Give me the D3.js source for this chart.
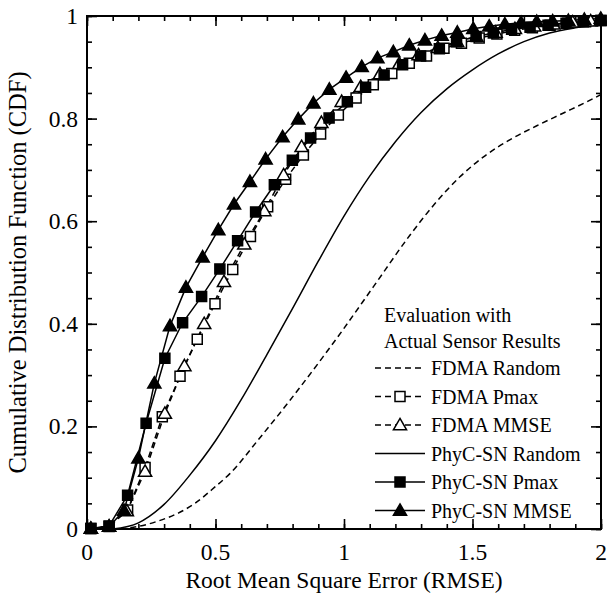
<!DOCTYPE html>
<html>
<head>
<meta charset="utf-8">
<script src="https://cdn.jsdelivr.net/npm/d3@7"></script>
<style>
  body { margin: 0; background: #fff; }
  svg text { font-family: "Liberation Serif", "Times New Roman", Times, serif; fill: #000; }
</style>
</head>
<body>
<div id="chart"></div>
<script>
// values
var xTickLabels = [0, 0.5, 1, 1.5, 2];
var yTickLabels = [0, 0.2, 0.4, 0.6, 0.8, 1];

var fdmaRandomX = [0.13, 0.2, 0.28, 0.355, 0.42, 0.498, 0.556, 0.673, 0.79, 0.919, 0.991, 1.114, 1.257, 1.35, 1.45, 1.55, 1.65, 1.75, 1.85, 1.95, 2.0];
var fdmaRandomY = [0, 0.005, 0.016, 0.031, 0.05, 0.082, 0.108, 0.178, 0.251, 0.336, 0.385, 0.472, 0.573, 0.632, 0.686, 0.728, 0.76, 0.786, 0.81, 0.834, 0.847];

var fdmaPmaxX = [0.015, 0.086, 0.158, 0.226, 0.293, 0.362, 0.429, 0.498, 0.567, 0.636, 0.703, 0.773, 0.842, 0.909, 0.978, 1.047, 1.114, 1.186, 1.254, 1.321, 1.389, 1.457, 1.526, 1.595, 1.664, 1.733, 1.802, 1.871, 1.94, 2.0];
var fdmaPmaxY = [0.001, 0.005, 0.037, 0.12, 0.219, 0.298, 0.37, 0.439, 0.506, 0.57, 0.628, 0.682, 0.729, 0.77, 0.807, 0.84, 0.866, 0.888, 0.908, 0.922, 0.937, 0.947, 0.957, 0.965, 0.972, 0.977, 0.982, 0.986, 0.989, 0.991];

var fdmaMmseX = [0.015, 0.086, 0.155, 0.226, 0.303, 0.379, 0.456, 0.533, 0.612, 0.69, 0.765, 0.835, 0.912, 0.991, 1.065, 1.14, 1.215, 1.29, 1.365, 1.44, 1.515, 1.59, 1.665, 1.74, 1.815, 1.89, 1.96, 2.0];
var fdmaMmseY = [0.001, 0.005, 0.035, 0.112, 0.225, 0.318, 0.4, 0.482, 0.555, 0.62, 0.69, 0.745, 0.792, 0.833, 0.862, 0.887, 0.907, 0.924, 0.938, 0.95, 0.96, 0.968, 0.975, 0.98, 0.984, 0.988, 0.99, 0.992];

var phycRandomX = [0.1, 0.2, 0.3, 0.4, 0.5, 0.6, 0.7, 0.8, 0.9, 1.0, 1.1, 1.2, 1.3, 1.4, 1.5, 1.6, 1.7, 1.8, 1.9, 2.0];
var phycRandomY = [0, 0.012, 0.048, 0.105, 0.172, 0.252, 0.34, 0.43, 0.522, 0.61, 0.688, 0.755, 0.812, 0.858, 0.895, 0.926, 0.95, 0.967, 0.977, 0.984];

var phycPmaxX = [0.015, 0.086, 0.158, 0.23, 0.303, 0.372, 0.446, 0.517, 0.586, 0.656, 0.729, 0.799, 0.87, 0.942, 1.013, 1.084, 1.156, 1.228, 1.298, 1.371, 1.438, 1.514, 1.581, 1.652, 1.724, 1.794, 1.864, 1.931, 2.0];
var phycPmaxY = [0.001, 0.006, 0.066, 0.206, 0.333, 0.402, 0.453, 0.507, 0.562, 0.618, 0.671, 0.719, 0.762, 0.801, 0.833, 0.861, 0.885, 0.905, 0.922, 0.936, 0.95, 0.96, 0.967, 0.974, 0.978, 0.982, 0.986, 0.989, 0.991];

var phycMmseX = [0.015, 0.086, 0.144, 0.2, 0.262, 0.323, 0.385, 0.45, 0.511, 0.572, 0.634, 0.695, 0.761, 0.822, 0.881, 0.943, 1.008, 1.069, 1.13, 1.192, 1.254, 1.315, 1.38, 1.441, 1.503, 1.565, 1.626, 1.689, 1.75, 1.812, 1.873, 1.935, 1.999];
var phycMmseY = [0.001, 0.005, 0.036, 0.138, 0.284, 0.396, 0.471, 0.53, 0.583, 0.633, 0.677, 0.721, 0.764, 0.799, 0.83, 0.857, 0.88, 0.901, 0.918, 0.93, 0.943, 0.953, 0.962, 0.968, 0.975, 0.98, 0.984, 0.987, 0.989, 0.99, 0.991, 0.993, 0.995];

var legendNames = ["FDMA Random", "FDMA Pmax", "FDMA MMSE", "PhyC-SN Random", "PhyC-SN Pmax", "PhyC-SN MMSE"];

var width = 607;
var height = 593;
var margin = { left: 87, right: 6, top: 16, bottom: 64 };
var serif = '"Liberation Serif", "Times New Roman", Times, serif';

var svg = d3.select("#chart").
    append("svg").
    attr("width", width).
    attr("height", height).
    attr("font-family", serif);

var xScale = d3.scaleLinear().
    domain([0, 2]).
    range([margin.left, width - margin.right]);

var yScale = d3.scaleLinear().
    domain([0, 1]).
    range([height - margin.bottom, margin.top]);

function zip(xs, ys) {
    return xs.map(function (x, i) { return [x, ys[i]]; });
}

var series = [
    { name: legendNames[0], data: zip(fdmaRandomX, fdmaRandomY), dash: "6,4", marker: null, smooth: true },
    { name: legendNames[1], data: zip(fdmaPmaxX, fdmaPmaxY), dash: "6,4", marker: "square", fill: "#fff" },
    { name: legendNames[2], data: zip(fdmaMmseX, fdmaMmseY), dash: "6,4", marker: "triangle", fill: "#fff" },
    { name: legendNames[3], data: zip(phycRandomX, phycRandomY), dash: null, marker: null, smooth: true },
    { name: legendNames[4], data: zip(phycPmaxX, phycPmaxY), dash: null, marker: "square", fill: "#000" },
    { name: legendNames[5], data: zip(phycMmseX, phycMmseY), dash: null, marker: "triangle", fill: "#000" }
];

// axes: ticks point inward on all four sides
var plotW = width - margin.left - margin.right;
var plotH = height - margin.top - margin.bottom;

function addAxis(axis, tx, ty) {
    var g = svg.append("g").
        attr("transform", "translate(" + tx + "," + ty + ")").
        call(axis);
    g.select(".domain").remove();
    g.selectAll("line").attr("stroke", "#000").attr("stroke-width", 1.6);
    return g;
}

var xMinor = d3.range(0, 2.0001, 0.1);
var yMinor = d3.range(0, 1.0001, 0.05);

addAxis(d3.axisTop(xScale).tickValues(xMinor).tickSize(5).tickFormat(""), 0, yScale(0));
addAxis(d3.axisTop(xScale).tickValues(xTickLabels).tickSize(10).tickFormat(""), 0, yScale(0));
addAxis(d3.axisBottom(xScale).tickValues(xMinor).tickSize(5).tickFormat(""), 0, yScale(1));
addAxis(d3.axisBottom(xScale).tickValues(xTickLabels).tickSize(10).tickFormat(""), 0, yScale(1));
addAxis(d3.axisRight(yScale).tickValues(yMinor).tickSize(5).tickFormat(""), xScale(0), 0);
addAxis(d3.axisRight(yScale).tickValues(yTickLabels).tickSize(10).tickFormat(""), xScale(0), 0);
addAxis(d3.axisLeft(yScale).tickValues(yMinor).tickSize(5).tickFormat(""), xScale(2), 0);
addAxis(d3.axisLeft(yScale).tickValues(yTickLabels).tickSize(10).tickFormat(""), xScale(2), 0);

svg.append("rect").
    attr("x", margin.left).
    attr("y", margin.top).
    attr("width", plotW).
    attr("height", plotH).
    attr("fill", "none").
    attr("stroke", "#000").
    attr("stroke-width", 2);

// tick labels
svg.append("g").selectAll("text").
    data(xTickLabels).
    enter().
    append("text").
    attr("x", function (d) { return xScale(d); }).
    attr("y", yScale(0) + 31).
    attr("text-anchor", "middle").
    attr("font-size", 23.5).
    text(function (d) { return d; });

svg.append("g").selectAll("text").
    data(yTickLabels).
    enter().
    append("text").
    attr("x", margin.left - 9).
    attr("y", function (d) { return yScale(d) + 8; }).
    attr("text-anchor", "end").
    attr("font-size", 23.5).
    text(function (d) { return d; });

// axis titles
svg.append("text").
    attr("x", margin.left + plotW / 2).
    attr("y", height - 5).
    attr("text-anchor", "middle").
    attr("font-size", 23.5).
    text("Root Mean Square Error (RMSE)");

svg.append("text").
    attr("transform", "translate(26," + (margin.top + plotH / 2) + ") rotate(-90)").
    attr("text-anchor", "middle").
    attr("font-size", 24.5).
    text("Cumulative Distribution Function (CDF)");

// curves
var plot = svg.append("g");

var lineStraight = d3.line().
    x(function (d) { return xScale(d[0]); }).
    y(function (d) { return yScale(d[1]); });

var lineSmooth = d3.line().
    curve(d3.curveMonotoneX).
    x(function (d) { return xScale(d[0]); }).
    y(function (d) { return yScale(d[1]); });

function markerPath(kind) {
    if (kind == "square") {
        return d3.symbol().type(d3.symbolSquare).size(100)();
    }
    return d3.symbol().type(d3.symbolTriangle).size(75)();
}

series.forEach(function (s) {
    plot.append("path").
        attr("d", (s.smooth ? lineSmooth : lineStraight)(s.data)).
        attr("fill", "none").
        attr("stroke", "#000").
        attr("stroke-width", 1.5).
        attr("stroke-dasharray", s.dash);
});

series.forEach(function (s) {
    if (!s.marker) {
        return;
    }
    plot.append("g").selectAll("path").
        data(s.data).
        enter().
        append("path").
        attr("d", markerPath(s.marker)).
        attr("transform", function (d) {
            var dy = s.marker == "triangle" ? 1 : 0;
            return "translate(" + xScale(d[0]) + "," + (yScale(d[1]) + dy) + ")";
        }).
        attr("fill", s.fill).
        attr("stroke", "#000").
        attr("stroke-width", 1.5);
});

// legend (no frame)
var legend = svg.append("g");
var legX = 375;
var legY0 = 368;
var legStep = 28.5;

legend.append("text").
    attr("x", 384).
    attr("y", 322).
    attr("font-size", 20).
    text("Evaluation with");

legend.append("text").
    attr("x", 384).
    attr("y", 348).
    attr("font-size", 20).
    text("Actual Sensor Results");

series.forEach(function (s, i) {
    var y = legY0 + i * legStep;
    legend.append("line").
        attr("x1", legX).
        attr("x2", legX + 50).
        attr("y1", y).
        attr("y2", y).
        attr("stroke", "#000").
        attr("stroke-width", 1.5).
        attr("stroke-dasharray", s.dash ? "6,4" : null);
    if (s.marker) {
        legend.append("path").
            attr("d", markerPath(s.marker)).
            attr("transform", "translate(" + (legX + 25) + "," + (y + (s.marker == "triangle" ? 1 : 0)) + ")").
            attr("fill", s.fill).
            attr("stroke", "#000").
            attr("stroke-width", 1.5);
    }
    legend.append("text").
        attr("x", legX + 56).
        attr("y", y + 7).
        attr("font-size", 20).
        text(s.name);
});
</script>
</body>
</html>
